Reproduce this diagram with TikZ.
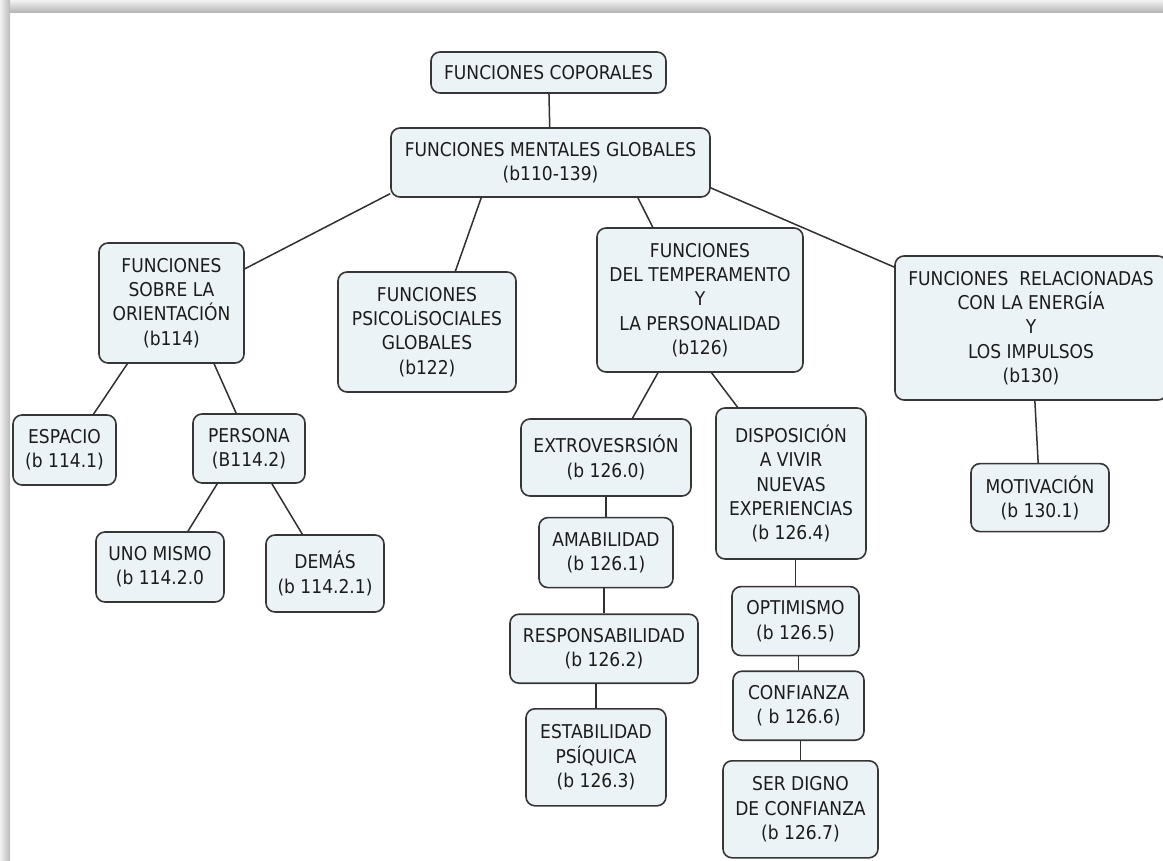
\documentclass[tikz,border=0pt]{standalone}
\usepackage{fontspec}
\setmainfont[FakeStretch=0.9]{DejaVu Sans}
\usepackage{tikz}
\usetikzlibrary{positioning}
\definecolor{boxfill}{HTML}{ECF3F6}
\definecolor{boxline}{HTML}{363636}
\definecolor{linecol}{HTML}{303030}
\definecolor{txt}{HTML}{1C1C1C}

\begin{document}
\begin{tikzpicture}[
    x=1pt, y=-1pt,
    font=\fontsize{19}{24.3}\selectfont,
    box/.style={draw=boxline, fill=boxfill, rounded corners=9pt, line width=1.6pt, align=center, inner sep=3pt, text=txt},
    sz/.style 2 args={minimum width=#1pt, minimum height=#2pt},
    ln/.style={draw=linecol, line width=1.5pt},
]
    % fondo y sombra del marco
    \useasboundingbox (0,0) rectangle (1163,861);
    \fill[white] (0,0) rectangle (1163,861);
    \shade[top color=gray!10, bottom color=gray!60] (0,0) rectangle (1163,13);
    \shade[left color=gray!10, right color=gray!55] (0,0) rectangle (10,861);

    \node[box, sz={235}{41}] (top) at (548.5,72.5) {FUNCIONES COPORALES};
    \node[box, sz={319}{69}] (mental) at (550.5,162.5) {FUNCIONES MENTALES GLOBALES\\(b110-139)};

    \node[box, sz={145}{120}] (orient) at (171.5,303) {FUNCIONES\\SOBRE LA\\ORIENTACIÓN\\(b114)};
    \node[box, sz={178}{120}] (psico) at (427,332) {FUNCIONES\\PSICOLiSOCIALES\\GLOBALES\\(b122)};
    \node[box, sz={206}{144}] (temper) at (700,300) {FUNCIONES\\DEL TEMPERAMENTO\\Y\\LA PERSONALIDAD\\(b126)};
    \node[box, sz={272}{144}] (energia) at (1031,328) {FUNCIONES\ \ RELACIONADAS\\CON LA ENERGÍA\\Y\\LOS IMPULSOS\\(b130)};

    \node[box, sz={103}{70}] (espacio) at (64.5,450) {ESPACIO\\(b 114.1)};
    \node[box, sz={112}{69}] (persona) at (249,448.5) {PERSONA\\(B114.2)};
    \node[box, sz={128}{70}] (uno) at (160,567) {UNO MISMO\\(b 114.2.0};
    \node[box, sz={118}{77}] (demas) at (325,573.5) {DEMÁS\\(b 114.2.1)};

    \node[box, sz={170}{77}] (extro) at (606,457.5) {EXTROVESRSIÓN\\(b 126.0)};
    \node[box, sz={134}{70}, below=20pt of extro] (amab) {AMABILIDAD\\(b 126.1)};
    \node[box, sz={188}{69}, below=25pt of amab, xshift=-2pt] (respon) {RESPONSABILIDAD\\(b 126.2)};
    \node[box, sz={140}{97}, below=24pt of respon, xshift=-8pt] (estab) {ESTABILIDAD\\PSÍQUICA\\(b 126.3)};

    \node[box, sz={150}{151}] (dispos) at (791,483.5) {DISPOSICIÓN\\A VIVIR\\NUEVAS\\EXPERIENCIAS\\(b 126.4)};
    \node[box, sz={127}{69}, below=26pt of dispos, xshift=4.5pt] (optim) {OPTIMISMO\\(b 126.5)};
    \node[box, sz={131}{69}, below=14pt of optim, xshift=3pt] (confi) {CONFIANZA\\( b 126.6)};
    \node[box, sz={155}{97}, below=19pt of confi, xshift=2pt] (digno) {SER DIGNO\\DE CONFIANZA\\(b 126.7)};

    \node[box, sz={138}{68}, below=62pt of energia, xshift=9pt] (motiv) {MOTIVACIÓN\\(b 130.1)};

    % conectores
    \draw[ln] (top) -- (mental);
    \draw[ln] (mental.191.6) -- (orient.25.8);
    \draw[ln] (mental.207.4) -- (psico.65);
    \draw[ln] (mental.338.1) -- (temper.123.9);
    \draw[ln] (mental.351.4) -- (energia.156.2);
    \draw[ln] (orient.234.1) -- (espacio.51.8);
    \draw[ln] (orient.305.9) -- (persona.110.6);
    \draw[ln] (persona.228.1) -- (uno.52.4);
    \draw[ln] (persona.303.7) -- (demas.120.9);
    \draw[ln] (temper.240.9) -- (extro.56);
    \draw[ln] (temper.279.5) -- (dispos.125.6);
    \draw[ln] (amab.north) -- (amab.north |- extro.south);
    \draw[ln] (respon.north) -- (respon.north |- amab.south);
    \draw[ln] (estab.north) -- (estab.north |- respon.south);
    \draw[ln] (optim.north) -- (optim.north |- dispos.south);
    \draw[ln] (confi.north) -- (confi.north |- optim.south);
    \draw[ln] (digno.north) -- (digno.north |- confi.south);
    \draw[ln] (energia) -- (motiv);
\end{tikzpicture}
\end{document}
